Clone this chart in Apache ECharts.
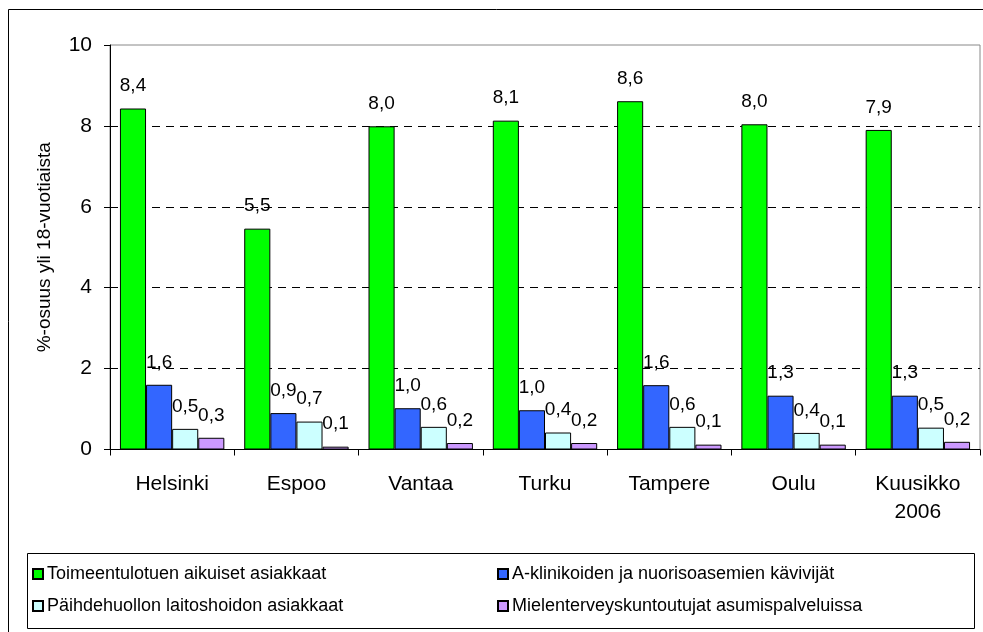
<!DOCTYPE html>
<html>
<head>
<meta charset="utf-8">
<script src="https://cdn.jsdelivr.net/npm/echarts@6/dist/echarts.min.js"></script>
<style>html,body{margin:0;padding:0;background:#fff}#c{width:983px;height:632px}</style>
</head>
<body>
<div id="c"></div>
<script>
var categories = ['Helsinki', 'Espoo', 'Vantaa', 'Turku', 'Tampere', 'Oulu', 'Kuusikko\n2006'];
var seriesNames = ['Toimeentulotuen aikuiset asiakkaat', 'A-klinikoiden ja nuorisoasemien kävivijät', 'Päihdehuollon laitoshoidon asiakkaat', 'Mielenterveyskuntoutujat asumispalveluissa'];
var toimeentulotuki = [8.43, 5.46, 7.99, 8.13, 8.61, 8.04, 7.90];
var aKlinikat = [1.60, 0.90, 1.02, 0.97, 1.59, 1.33, 1.33];
var paihdehuolto = [0.51, 0.69, 0.56, 0.42, 0.56, 0.41, 0.54];
var mielenterveys = [0.29, 0.07, 0.16, 0.16, 0.12, 0.12, 0.19];
var yTicks = [0, 2, 4, 6, 8, 10];

var colors = ['#00FF00', '#3366FF', '#CCFFFF', '#CC99FF'];
var font = '"Liberation Sans", Arial, sans-serif';
var allData = [toimeentulotuki, aKlinikat, paihdehuolto, mielenterveys];

var chart = echarts.init(document.getElementById('c'), null, {renderer: 'canvas'});

function mkSeries(i) {
  return {
    name: seriesNames[i],
    type: 'bar',
    data: allData[i],
    barGap: '0%',
    barCategoryGap: '16%',
    itemStyle: {color: colors[i], borderColor: '#000', borderWidth: 1},
    label: {
      show: true, position: 'top', distance: 13,
      fontFamily: font, fontSize: 19, color: '#000',
      formatter: function (p) { return p.value.toFixed(1).replace('.', ','); }
    },
    emphasis: {disabled: true},
    animation: false
  };
}

var legendPos = [[32, 565], [497, 565], [32, 597], [497, 597]];
var legends = seriesNames.map(function (n, i) {
  return {
    data: [n], left: legendPos[i][0], top: legendPos[i][1], padding: 0,
    itemWidth: 10, itemHeight: 10, itemGap: 4, icon: 'rect', selectedMode: false,
    textStyle: {fontFamily: font, fontSize: 18, color: '#000', padding: [0, 0, 0, -1]}
  };
});

chart.setOption({
  animation: false,
  grid: {left: 110, right: 3, top: 45, bottom: 182.5, show: true, borderColor: '#888', borderWidth: 1, backgroundColor: 'transparent'},
  legend: legends,
  graphic: [
    {type: 'rect', shape: {x: 8.5, y: 9.5, width: 990, height: 640}, style: {fill: 'none', stroke: '#000', lineWidth: 1}, silent: true, z: -1},
    {type: 'rect', shape: {x: 27.5, y: 553.5, width: 947, height: 75}, style: {fill: 'none', stroke: '#000', lineWidth: 1}, silent: true, z: -1}
  ],
  xAxis: {
    type: 'category', data: categories,
    axisLine: {lineStyle: {color: '#000', width: 1}},
    axisTick: {show: true, length: 6, alignWithLabel: false, lineStyle: {color: '#000'}},
    axisLabel: {fontFamily: font, fontSize: 21, color: '#000', margin: 21, lineHeight: 28, interval: 0}
  },
  yAxis: {
    type: 'value', min: yTicks[0], max: yTicks[yTicks.length - 1], interval: 2,
    name: '%-osuus yli 18-vuotiaista', nameLocation: 'middle', nameGap: 56,
    nameTextStyle: {fontFamily: font, fontSize: 19, color: '#000'},
    axisLine: {show: true, lineStyle: {color: '#000', width: 1}},
    axisTick: {show: true, length: 6, lineStyle: {color: '#000'}},
    axisLabel: {fontFamily: font, fontSize: 21, color: '#000', margin: 18},
    splitLine: {show: true, lineStyle: {color: ['rgba(0,0,0,0)', '#000', '#000', '#000', '#000', 'rgba(0,0,0,0)'], type: [8, 6], width: 1}}
  },
  series: [0, 1, 2, 3].map(mkSeries)
});
</script>
</body>
</html>
